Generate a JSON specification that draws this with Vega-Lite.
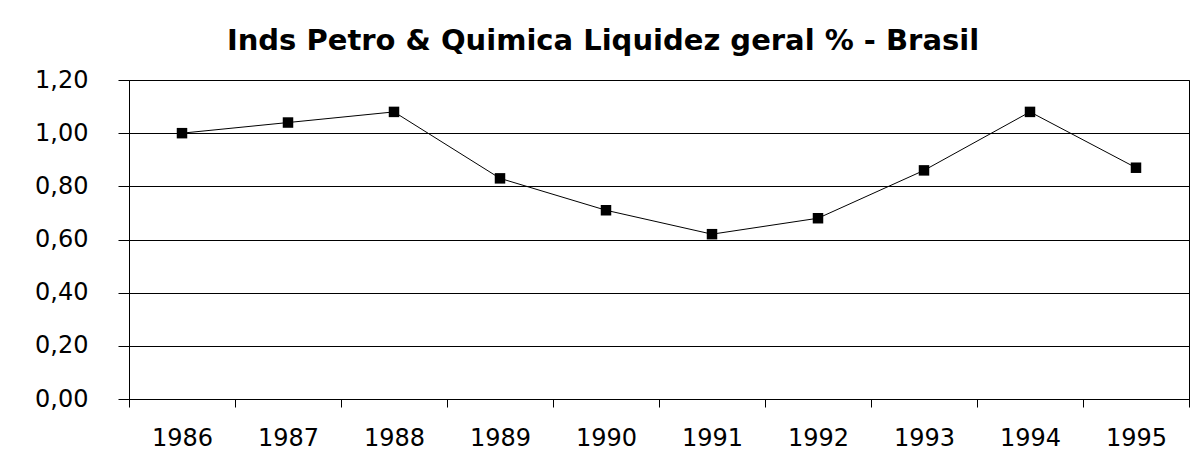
{
  "$schema": "https://vega.github.io/schema/vega-lite/v6.json",
  "width": 1060,
  "height": 319,
  "autosize": {"type": "none"},
  "padding": {"left": 129, "top": 80, "right": 10, "bottom": 55},
  "background": "white",
  "title": {
    "text": "Inds Petro & Quimica Liquidez geral  % - Brasil",
    "font": "DejaVu Sans",
    "fontSize": 29,
    "fontWeight": "bold",
    "color": "black",
    "anchor": "middle",
    "offset": 12,
    "dx": -56
  },
  "config": {
    "view": {"stroke": "black", "strokeWidth": 1},
    "axis": {
      "labelFont": "DejaVu Sans",
      "labelFontSize": 24,
      "labelColor": "black",
      "domainColor": "black",
      "tickColor": "black",
      "gridColor": "black",
      "gridOpacity": 1,
      "title": null
    }
  },
  "data": {
    "values": [
      {"ano": "1986", "valor": 1.00},
      {"ano": "1987", "valor": 1.04},
      {"ano": "1988", "valor": 1.08},
      {"ano": "1989", "valor": 0.83},
      {"ano": "1990", "valor": 0.71},
      {"ano": "1991", "valor": 0.62},
      {"ano": "1992", "valor": 0.68},
      {"ano": "1993", "valor": 0.86},
      {"ano": "1994", "valor": 1.08},
      {"ano": "1995", "valor": 0.87}
    ]
  },
  "encoding": {
    "x": {
      "field": "ano",
      "type": "ordinal",
      "scale": {"paddingInner": 0, "paddingOuter": 0},
      "axis": {
        "labelAngle": 0,
        "tickBand": "extent",
        "tickSize": 8,
        "labelPadding": 19,
        "domain": true,
        "grid": false
      }
    },
    "y": {
      "field": "valor",
      "type": "quantitative",
      "scale": {"domain": [0, 1.2], "nice": false, "zero": true},
      "axis": {
        "values": [0, 0.2, 0.4, 0.6, 0.8, 1.0, 1.2],
        "labelExpr": "replace(format(datum.value, '.2f'), '.', ',')",
        "tickSize": 11,
        "labelPadding": 30,
        "grid": true,
        "domain": true
      }
    }
  },
  "layer": [
    {"mark": {"type": "line", "color": "black", "strokeWidth": 1}},
    {"mark": {"type": "square", "color": "black", "filled": true, "opacity": 1, "size": 110}}
  ]
}
